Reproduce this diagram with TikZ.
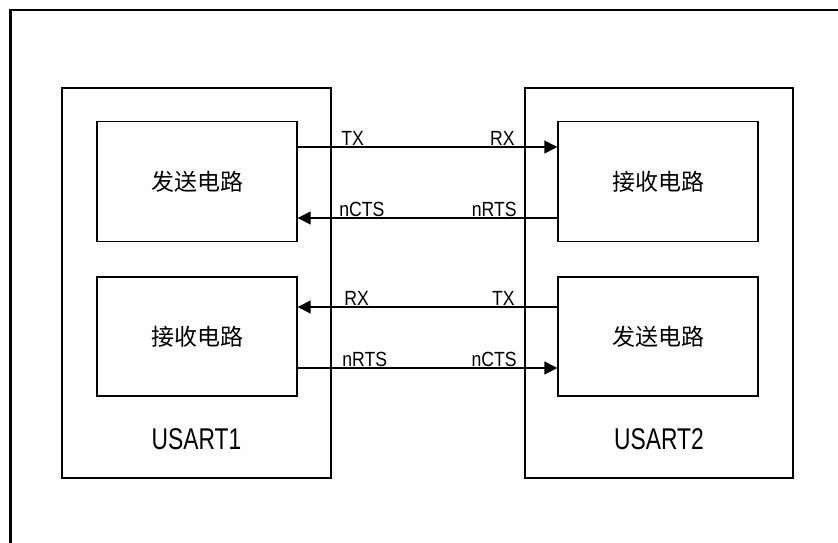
\documentclass[tikz,border=0pt]{standalone}
\usepackage{fontspec}
\newfontfamily\cjk{Noto Sans CJK SC}
\newfontfamily\lblfont[FakeStretch=0.86]{Liberation Sans}
\newfontfamily\namefont[FakeStretch=0.76]{Liberation Sans}
\usetikzlibrary{arrows.meta,positioning}
\tikzset{
  usart/.style={draw,line width=1.4pt,minimum width=269pt,minimum height=390pt,inner sep=0pt},
  circ/.style={draw,line width=1.4pt,minimum width=200pt,minimum height=120pt,inner sep=0pt,font=\cjk\fontsize{23}{23}\selectfont},
  sig/.style={line width=1.4pt,-{Triangle[length=13pt,width=13pt]}},
  lbl/.style={font=\lblfont\fontsize{20.5}{20.5}\selectfont,inner sep=0pt},
  uname/.style={font=\namefont\fontsize{30}{30}\selectfont,inner sep=0pt},
}

\begin{document}
\begin{tikzpicture}[x=1pt,y=-1pt]
\useasboundingbox (0,0) rectangle (838,542);

% ================= frame =================
\draw[line width=2.2pt] (10.5,545) -- (10.5,10) -- (841,10);

% ================= USART1 =================
\node[usart] (u1) at (196.5,283) {};
\node[circ] (send1) at (197,181.5) {发送电路};
\node[circ,minimum height=119pt] (recv1) at (197,336.5) {接收电路};
\node[uname] (name1) at (196.5,439) {USART1};

% ================= USART2 =================
\node[usart,minimum width=268pt] (u2) at (659,283) {};
\node[circ] (recv2) at (658,181.5) {接收电路};
\node[circ,minimum height=119pt] (send2) at (658,336.5) {发送电路};
\node[uname] (name2) at (659,439) {USART2};

% ================= signals =================
\draw[sig] ([yshift=34.5pt]send1.east) -- ([yshift=34.5pt]recv2.west)
  node[lbl,pos=0,anchor=base west,xshift=43pt,yshift=2pt] {TX}
  node[lbl,pos=1,anchor=base east,xshift=-42pt,yshift=2pt] {RX};
\draw[sig] ([yshift=-36.5pt]recv2.west) -- ([yshift=-36.5pt]send1.east)
  node[lbl,pos=1,anchor=base west,xshift=41pt,yshift=2pt] {nCTS}
  node[lbl,pos=0,anchor=base east,xshift=-40pt,yshift=2pt] {nRTS};
\draw[sig] ([yshift=29.5pt]send2.west) -- ([yshift=29.5pt]recv1.east)
  node[lbl,pos=1,anchor=base west,xshift=46pt,yshift=2pt] {RX}
  node[lbl,pos=0,anchor=base east,xshift=-42pt,yshift=2pt] {TX};
\draw[sig] ([yshift=-31.5pt]recv1.east) -- ([yshift=-31.5pt]send2.west)
  node[lbl,pos=0,anchor=base west,xshift=44pt,yshift=2pt] {nRTS}
  node[lbl,pos=1,anchor=base east,xshift=-40pt,yshift=2pt] {nCTS};

\end{tikzpicture}
\end{document}
